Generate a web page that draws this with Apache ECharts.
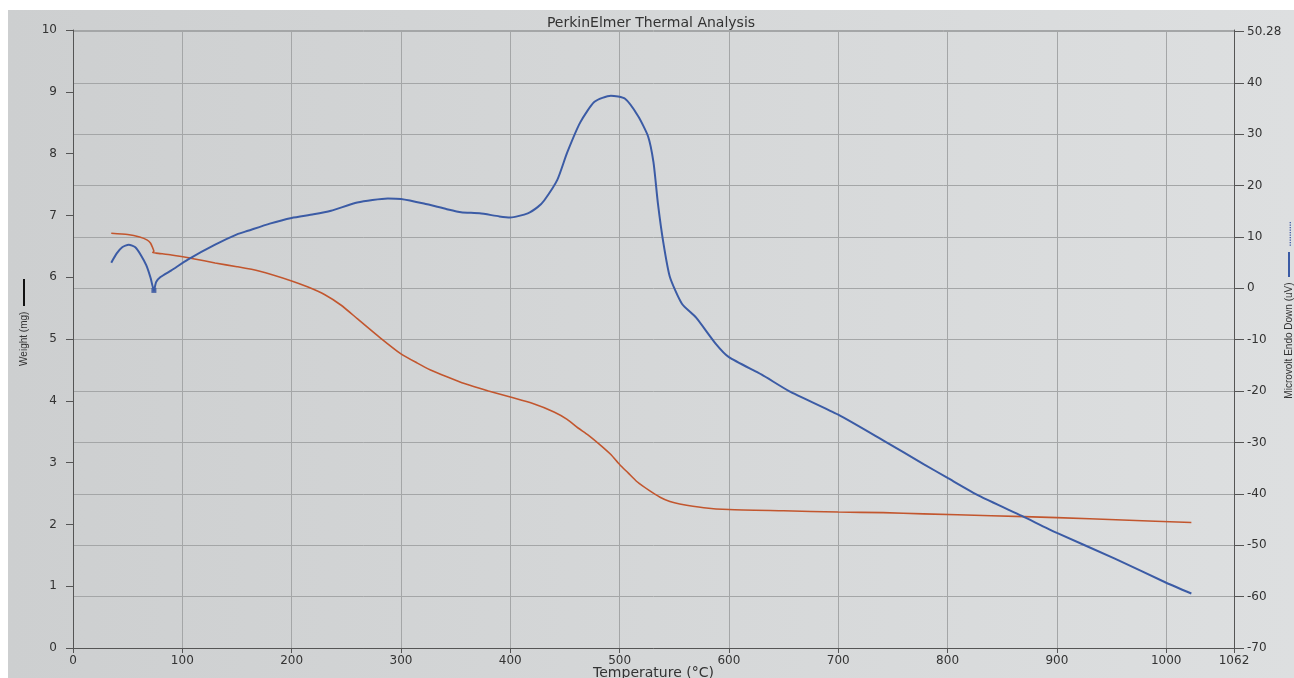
<!DOCTYPE html>
<html>
<head>
<meta charset="utf-8">
<script src="https://cdn.jsdelivr.net/npm/echarts@6/dist/echarts.min.js"></script>
<style>
html,body{margin:0;padding:0;background:#ffffff;width:1294px;height:678px;overflow:hidden;}
#chart{position:absolute;left:8px;top:10px;width:1286px;height:668px;}
</style>
</head>
<body>
<div id="chart"></div>
<script>
// Temperature ticks
const xMin = 0, xMax = 1062, xInterval = 100;
const wMin = 0, wMax = 10, wInterval = 1;
const uvMin = -70, uvMax = 50.28, uvInterval = 10;

// Weight (mg) curve
const weightTemp = [35,50,61,68,71,73,74,73,76,90,110,130,150,170,200,215,230,245,260,281,300,315,327,342,358,380,400,420,440,452,462,471,484,492,500,508,516,527,537,546,555,577,600,650,700,741,778,840,900,960,1023];
const weightMg   = [6.71,6.69,6.65,6.60,6.55,6.47,6.42,6.40,6.39,6.36,6.30,6.23,6.17,6.10,5.94,5.84,5.72,5.55,5.33,5.02,4.76,4.61,4.50,4.39,4.28,4.16,4.06,3.96,3.82,3.70,3.56,3.45,3.26,3.13,2.97,2.83,2.69,2.55,2.44,2.37,2.33,2.27,2.24,2.22,2.20,2.19,2.17,2.14,2.11,2.07,2.03];

// Microvolt curve
const uvTemp = [35,40,45,51,57,62,67,71,74,76,80,90,105,130,150,160,180,200,220,236,260,288,300,321,342,355,372,390,400,416,425,431,443,452,464,477,492,505,517,526,531,535,540,546,557,570,588,600,630,655,700,741,778,800,829,868,900,953,1000,1023];
const uvValue = [5.0,6.8,8.0,8.5,8.0,6.5,4.5,2.0,-0.4,1.2,2.2,3.5,5.6,8.5,10.5,11.2,12.6,13.7,14.4,15.1,16.7,17.5,17.4,16.5,15.4,14.8,14.6,14.0,13.8,14.6,15.8,17.1,21.1,26.4,32.3,36.3,37.5,36.9,33.5,29.6,24.5,16.6,8.9,2.2,-3.0,-5.7,-10.8,-13.4,-16.8,-20.0,-24.6,-29.6,-34.2,-36.9,-40.4,-44.3,-47.6,-52.6,-57.3,-59.4];
const cuspIndex = 8;

const weightData = weightTemp.map((t, i) => [t, weightMg[i]]);
const uvData = uvTemp.map((t, i) => [t, uvValue[i]]);

const FONT = 'DejaVu Sans, Verdana, sans-serif';
const NFONT = 'Liberation Sans, Arial, sans-serif';
const chart = echarts.init(document.getElementById('chart'));
chart.setOption({
  animation: false,
  backgroundColor: new echarts.graphic.LinearGradient(0, 0, 1, 0, [
    {offset: 0, color: '#cdcfd0'}, {offset: 1, color: '#dddfe0'}
  ]),
  title: {
    text: 'PerkinElmer Thermal Analysis',
    left: 'center', top: 1,
    textStyle: {fontFamily: FONT, fontSize: 14, fontWeight: 'normal', color: '#333'}
  },
  grid: {left: 65, top: 20, width: 1161, height: 618, outerBoundsMode: 'none', containLabel: false},
  xAxis: {
    type: 'value', min: xMin, max: xMax, interval: xInterval,
    axisLine: {show: true, lineStyle: {color: '#555', width: 1}},
    axisTick: {show: true, length: 5, lineStyle: {color: '#555'}},
    axisLabel: {margin: 7, fontFamily: FONT, fontSize: 12, color: '#333', formatter: v => String(v)},
    splitLine: {show: true, lineStyle: {color: '#a4a6a7', width: 1}},
    name: 'Temperature (°C)', nameLocation: 'middle', nameGap: 18, nameMoveOverlap: false,
    nameTextStyle: {fontFamily: FONT, fontSize: 14, color: '#333'}
  },
  yAxis: [
    {
      type: 'value', position: 'left', min: wMin, max: wMax, interval: wInterval,
      axisLine: {show: true, lineStyle: {color: '#555', width: 1}},
      axisTick: {show: true, length: 7, lineStyle: {color: '#555'}},
      axisLabel: {margin: 16, fontFamily: FONT, fontSize: 12, color: '#333'},
      splitLine: {show: false},
      name: '{t|Weight (mg)}  {l|}', nameLocation: 'middle', nameRotate: 90, nameGap: 44, nameMoveOverlap: false,
      nameTextStyle: {
        fontFamily: NFONT, fontSize: 10, color: '#333', padding: [0, 0, 0, 33],
        rich: {
          t: {fontFamily: NFONT, fontSize: 10, color: '#333'},
          l: {width: 27, height: 2, backgroundColor: '#111'}
        }
      }
    },
    {
      type: 'value', position: 'right', min: uvMin, max: uvMax, interval: uvInterval,
      axisLine: {show: true, lineStyle: {color: '#555', width: 1}},
      axisTick: {show: true, length: 10, lineStyle: {color: '#555'}},
      axisLabel: {margin: 13, fontFamily: FONT, fontSize: 12, color: '#333',
                  formatter: v => (v > uvMax - uvInterval / 2 ? String(uvMax) : String(Math.round(v * 100) / 100))},
      splitLine: {show: true, lineStyle: {color: '#a4a6a7', width: 1}},
      name: '{t|Microvolt Endo Down (uV)}  {l|}  {d|..........}', nameLocation: 'middle', nameRotate: 90, nameGap: 50, nameMoveOverlap: false,
      nameTextStyle: {
        fontFamily: NFONT, fontSize: 10, color: '#333', padding: [0, 0, 0, 58],
        rich: {
          t: {fontFamily: NFONT, fontSize: 10, color: '#333'},
          l: {width: 25, height: 2, backgroundColor: '#3b5ba5'},
          d: {fontFamily: NFONT, fontSize: 9, fontWeight: 'bold', color: '#4a62aa'}
        }
      }
    }
  ],
  series: [
    {
      name: 'Weight', type: 'line', yAxisIndex: 0, data: weightData,
      showSymbol: false, smooth: 0.2,
      lineStyle: {color: '#c2562e', width: 1.6}
    },
    {
      name: 'Microvolt', type: 'line', yAxisIndex: 1, data: uvData,
      showSymbol: false, smooth: 0.2,
      lineStyle: {color: '#3b5ba5', width: 2}
    },
    {
      name: 'cusp', type: 'scatter', yAxisIndex: 1,
      data: [[uvTemp[cuspIndex], uvValue[cuspIndex]]],
      symbol: 'rect', symbolSize: 5, itemStyle: {color: '#2d4c9c'}
    }
  ]
});
</script>
</body>
</html>
